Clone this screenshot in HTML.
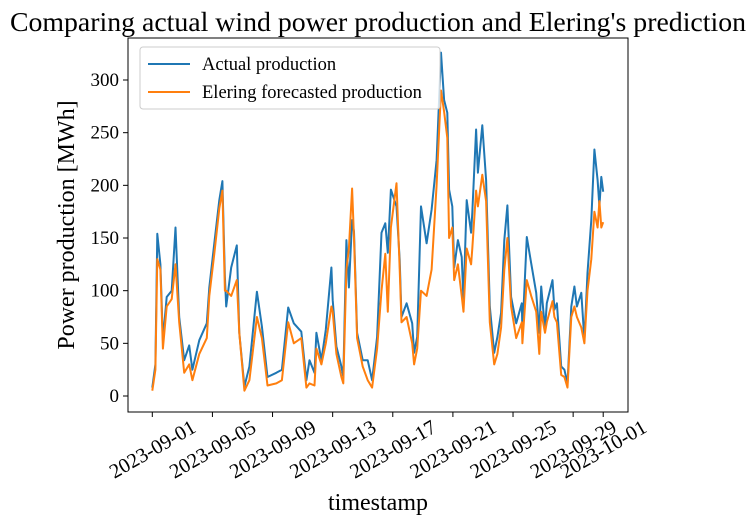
<!DOCTYPE html>
<html><head><meta charset="utf-8"><style>body{margin:0;background:#fff}svg{display:block;font-family:"Liberation Serif",serif}</style></head>
<body>
<svg id="c" width="756" height="526"></svg>
<script>
const hours=[0,5,8,13,17,23,31,37,43,51,59,64,75,87,91,99,107,112,116,118,126,135,139,147,155,167,175,184,198,207,217,226,238,246,251,259,262,270,277,286,288,294,302,305,310,314,319,322,327,336,344,351,359,366,372,376,381,390,395,398,406,415,418,423,429,438,446,454,461,466,471,474,479,482,488,494,497,502,509,511,517,520,527,533,539,546,551,557,562,567,573,581,590,591,598,605,613,618,621,627,630,639,642,646,653,658,663,669,674,678,685,690,695,701,706,711,714,717,720];
const actual=[8,30,154,125,53,94,100,160,75,34,48,25,53,69,103,145,186,204,113,85,122,143,60,9,28,99,66,18,22,25,84,69,61,15,34,22,60,34,63,122,91,47,28,18,148,103,167,156,60,34,34,15,56,155,164,136,196,180,129,75,88,69,41,56,180,145,177,224,326,281,269,196,180,122,148,132,91,186,155,174,253,212,257,205,85,41,56,79,148,181,94,69,88,60,151,126,98,60,104,63,88,110,82,88,28,25,12,85,104,85,98,53,117,167,234,205,180,208,194];
const forecast=[5,25,130,120,45,85,92,125,70,22,30,15,40,55,95,135,178,195,100,100,95,110,60,5,15,75,55,10,12,15,70,50,55,8,12,10,45,30,50,85,80,40,18,12,120,140,197,150,55,28,15,8,45,100,135,80,160,202,120,70,75,50,30,45,100,95,120,200,290,270,245,150,160,110,125,95,80,140,125,140,195,180,210,185,70,30,40,65,120,150,85,55,70,50,110,95,80,40,80,60,70,90,75,70,20,18,8,75,85,75,65,50,100,130,175,160,185,160,165];
const yTicks=[0,50,100,150,200,250,300];
const xTickDays=[0,4,8,12,16,20,24,28,30];
const xTickLabels=["2023-09-01","2023-09-05","2023-09-09","2023-09-13","2023-09-17","2023-09-21","2023-09-25","2023-09-29","2023-10-01"];
const NS="http://www.w3.org/2000/svg",svg=document.getElementById('c');
const L=128,R=628,T=38,B=412;
const X=h=>152.3+h/24*15.03, Y=v=>396-v*1.0533;
function el(t,a,p){const e=document.createElementNS(NS,t);for(const k in a)e.setAttribute(k,a[k]);(p||svg).appendChild(e);return e;}
let t=el('text',{x:378,y:31,'font-size':27.8,'text-anchor':'middle'});t.textContent="Comparing actual wind power production and Elering's prediction";

function line(data,color,name){let d=hours.map((h,i)=>(i?'L':'M')+X(h).toFixed(1)+','+Y(data[i]).toFixed(1)).join('');
const p=el('path',{d:d,fill:'none',stroke:color,'stroke-width':2,'stroke-linejoin':'round'});
}
line(actual,'#1f77b4','actual-production-line');
line(forecast,'#ff7f0e','forecast-production-line');
const fr=el('rect',{x:L,y:T,width:R-L,height:B-T,fill:'none',stroke:'#000','stroke-width':1});

yTicks.forEach(v=>{el('line',{x1:L-5,x2:L,y1:Y(v),y2:Y(v),stroke:'#000'});
const tx=el('text',{x:L-9,y:Y(v)+6,'font-size':19,'text-anchor':'end'});tx.textContent=v;
});
xTickDays.forEach((d,i)=>{const x=X(d*24);el('line',{x1:x,x2:x,y1:B,y2:B+5,stroke:'#000'});
const cx=x,cy=449;
const tx=el('text',{x:cx,y:cy+7,'font-size':20.5,'text-anchor':'middle',transform:`rotate(-30 ${cx} ${cy})`});tx.textContent=xTickLabels[i];
});
const xl=el('text',{x:378,y:510,'font-size':24,'text-anchor':'middle'});xl.textContent="timestamp";

const yl=el('text',{x:74,y:225,'font-size':24,'text-anchor':'middle',transform:'rotate(-90 74 225)'});yl.textContent="Power production [MWh]";

const g=el('g',{});
el('rect',{x:140,y:47,width:300,height:62,rx:3,fill:'#fff','fill-opacity':0.8,stroke:'#ccc'},g);
[['Actual production','#1f77b4',64],['Elering forecasted production','#ff7f0e',92]].forEach(([s,c,y])=>{
el('line',{x1:148,x2:190,y1:y,y2:y,stroke:c,'stroke-width':2},g);
const tx=el('text',{x:202,y:y+6,'font-size':18.5},g);tx.textContent=s;
});
</script>
</body></html>
